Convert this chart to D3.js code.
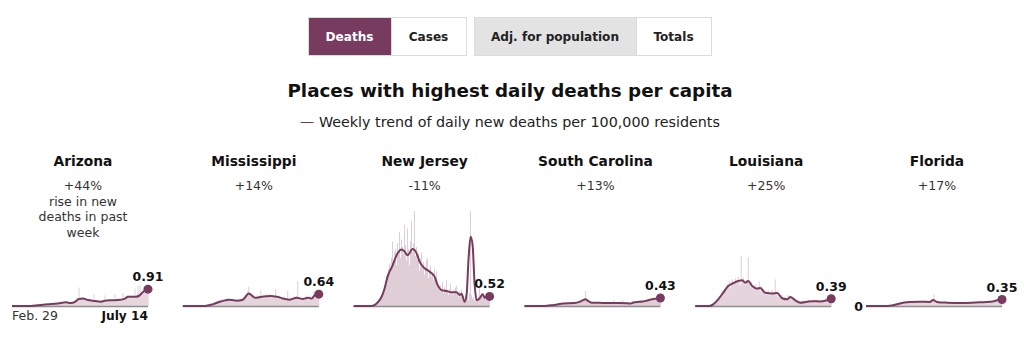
<!DOCTYPE html>
<html>
<head>
<meta charset="utf-8">
<script src="https://cdn.jsdelivr.net/npm/d3@7"></script>
<style>
  html, body { margin: 0; padding: 0; background: #fff; }
  svg { display: block; font-family: "DejaVu Sans", sans-serif; }
</style>
</head>
<body>
<div class="draw-area"></div>
<script>
// ---- data ----
const states = ["Arizona", "Mississippi", "New Jersey", "South Carolina", "Louisiana", "Florida"];
const changes = ["+44%", "+14%", "-11%", "+13%", "+25%", "+17%"];
const latest = ["0.91", "0.64", "0.52", "0.43", "0.39", "0.35"];
const dateLabels = ["Feb. 29", "July 14"];
const buttons1 = ["Deaths", "Cases"];
const buttons2 = ["Adj. for population", "Totals"];

// daily new deaths per 100k, Feb. 29 (day 0) .. July 14 (day 136)
const azDaily = [0,0,0,0,0,0,0,0,0,0, 0,0,0,0,0,0,0,0.01,0,0.01,
  0.01,0.03,0.01,0.04,0.03,0.05,0.06,0.02,0.07,0.05,
  0.08,0.06,0.1,0.04,0.09,0.12,0.07,0.11,0.13,0.08,
  0.12,0.15,0.1,0.18,0.14,0.11,0.16,0.2,0.13,0.17,
  0.19,0.12,0.22,0.18,0.25,0.15,0.2,0.14,0.18,0.12,
  0.22,0.17,0.28,0.2,0.3,0.45,0.38,1.0,0.42,0.35,
  0.48,0.36,0.4,0.33,0.3,0.42,0.28,0.36,0.25,0.31,
  0.27,0.22,0.63,0.24,0.2,0.3,0.26,0.18,0.28,0.22,
  0.3,0.25,0.34,0.58,0.26,0.32,0.28,0.36,0.3,0.27,
  0.35,0.29,0.31,0.62,0.3,0.34,0.28,0.4,0.33,0.37,
  0.42,0.7,0.38,0.45,0.55,0.48,0.6,0.44,0.52,0.5,
  0.58,0.46,0.54,0.95,0.49,0.62,1.1,0.66,1.14,0.72,
  0.85,0.78,1.05,0.82,0.96,0.88,1.02];
const msDaily = [0,0,0,0,0,0,0,0,0,0, 0,0,0,0,0,0,0,0,0,0,
  0,0.03,0,0.03,0.07,0.03,0.1,0.07,0.13,0.1,
  0.07,0.17,0.2,0.13,0.27,0.2,0.3,0.23,0.33,0.27,
  0.37,0.3,0.23,0.4,0.33,0.47,0.3,0.37,0.27,0.4,
  0.3,0.23,0.37,0.27,0.33,0.2,0.4,0.3,0.37,0.43,
  0.33,0.5,0.4,0.6,0.57,0.8,1.05,0.7,0.53,0.5,
  0.43,0.57,0.37,0.47,0.4,0.6,0.43,0.53,0.83,0.47,
  0.57,0.4,0.6,0.5,0.67,0.47,0.57,0.5,0.63,0.43,
  0.57,0.47,0.53,0.93,0.43,0.5,0.4,0.57,0.37,0.47,
  0.4,0.33,0.5,0.3,0.37,0.83,0.3,0.4,0.33,0.47,
  0.37,0.43,0.53,0.4,0.57,1.35,0.47,0.4,0.33,0.5,
  0.37,0.47,0.4,0.53,0.43,0.5,0.37,0.57,0.4,0.47,
  0.53,0.8,0.6,0.67,0.9,0.57,0.73];
const njDaily = [0,0,0,0,0,0,0,0,0,0, 0,0,0,0,0,0,0,0,0.01,0.02,
  0.02,0.05,0.1,0.12,0.2,0.3,0.25,0.45,0.6,0.55,
  0.9,1.1,1.3,1.6,1.5,2.0,2.3,1.8,2.6,3.5,
  2.4,2.9,3.1,2.2,3.4,3.0,4.0,2.6,3.6,3.2,
  2.8,4.4,3.3,2.5,4.2,3.1,2.2,3.5,4.6,2.9,
  3.4,5.3,2.7,3.2,2.5,2.8,1.9,2.6,2.9,2.2,
  2.4,1.7,2.1,2.5,2.6,1.5,1.9,2.2,1.6,1.8,
  1.4,2.0,1.5,1.9,1.2,1.0,0.9,1.1,0.8,1.3,
  0.7,1.0,0.9,1.4,0.8,0.6,0.9,1.2,0.7,0.8,
  0.6,0.9,1.0,1.1,0.7,0.5,0.8,0.6,0.9,0.4,
  0.5,0.3,0.6,0.4,0.5,0.3,0.7,21.0,0.6,0.4,
  0.5,0.3,0.4,0.6,0.3,0.5,1.0,0.4,0.7,0.5,
  0.4,0.6,0.5,0.4,0.7,0.5,0.6];
const scDaily = [0,0,0,0,0,0,0,0,0,0, 0,0,0,0,0,0,0,0,0,0,
  0,0.02,0,0.04,0.02,0.04,0.06,0.04,0.08,0.06,
  0.04,0.08,0.1,0.06,0.12,0.08,0.14,0.1,0.16,0.12,
  0.18,0.14,0.1,0.16,0.2,0.12,0.18,0.14,0.22,0.16,
  0.12,0.2,0.16,0.24,0.18,0.26,0.22,0.3,0.28,0.34,
  0.4,0.81,0.3,0.26,0.2,0.24,0.16,0.2,0.14,0.18,
  0.16,0.2,0.14,0.18,0.22,0.16,0.12,0.18,0.2,0.14,
  0.16,0.24,0.12,0.18,0.14,0.2,0.16,0.12,0.18,0.3,
  0.14,0.18,0.2,0.12,0.16,0.22,0.14,0.18,0.32,0.16,
  0.12,0.18,0.14,0.2,0.1,0.16,0.12,0.2,0.28,0.18,
  0.22,0.18,0.26,0.2,0.24,0.3,0.22,0.26,0.2,0.28,
  0.32,0.24,0.3,0.36,0.28,0.4,0.34,0.3,0.44,0.38,
  0.42,0.36,0.48,0.44,0.5,0.4,0.46];
const laDaily = [0,0,0,0,0,0,0,0,0,0, 0,0,0,0,0.02,0.04,0.06,0.1,0.12,0.18,
  0.22,0.3,0.35,0.42,0.5,0.45,0.65,0.8,0.7,0.9,
  1.0,0.85,1.2,1.1,1.35,0.95,1.3,1.45,1.1,1.25,
  1.5,1.2,1.35,1.6,1.3,1.1,2.7,1.4,1.55,1.2,
  1.15,1.4,1.3,2.65,1.2,1.05,1.3,0.95,1.1,0.9,
  1.2,0.85,1.0,0.9,1.35,0.8,1.1,0.75,0.9,0.65,
  0.8,0.6,0.75,0.85,0.55,0.7,0.65,0.9,0.6,0.75,
  1.44,0.6,0.7,0.5,0.55,0.45,0.6,0.4,0.35,0.5,
  0.3,0.45,0.4,0.6,0.55,0.45,0.35,0.5,0.3,0.4,
  0.25,0.35,0.2,0.3,0.15,0.25,0.2,0.3,0.15,0.25,
  0.3,0.2,0.25,0.35,0.2,0.3,0.25,0.2,0.3,0.35,
  0.2,0.3,0.25,0.35,0.2,0.3,0.25,0.35,0.3,0.25,
  0.35,0.3,0.4,0.35,0.45,0.4,0.5];
const flDaily = [0,0,0,0,0,0,0,0,0,0, 0,0,0,0,0,0,0,0,0,0,
  0,0.01,0.02,0.02,0.03,0.04,0.05,0.06,0.07,0.08,
  0.07,0.1,0.09,0.12,0.14,0.12,0.15,0.17,0.16,0.18,
  0.2,0.17,0.22,0.19,0.24,0.21,0.18,0.25,0.22,0.2,
  0.26,0.21,0.24,0.19,0.27,0.22,0.2,0.25,0.23,0.21,
  0.24,0.2,0.26,0.22,0.3,0.35,0.28,0.4,0.63,0.25,
  0.22,0.26,0.19,0.23,0.18,0.21,0.17,0.2,0.16,0.19,
  0.17,0.2,0.15,0.18,0.16,0.19,0.14,0.17,0.15,0.18,
  0.16,0.19,0.15,0.17,0.14,0.18,0.16,0.15,0.17,0.16,
  0.18,0.15,0.19,0.17,0.2,0.16,0.18,0.21,0.17,0.2,
  0.19,0.22,0.18,0.21,0.2,0.23,0.19,0.22,0.24,0.2,
  0.23,0.21,0.25,0.22,0.26,0.24,0.28,0.25,0.3,0.27,
  0.32,0.29,0.34,0.31,0.37,0.33,0.38];

// weekly trend, [day, value]
const azTrend = [[0,0],[19,0],[26,0.04],[36,0.09],[46,0.14],[54,0.2],[59,0.16],[63,0.22],[67,0.38],[71,0.4],
  [76,0.32],[83,0.27],[88,0.23],[93,0.29],[99,0.31],[106,0.32],[113,0.4],[116,0.5],[124,0.5],[128,0.59],[131,0.76],[136,0.91]];
const msTrend = [[0,0],[22,0],[30,0.09],[37,0.23],[47,0.34],[54,0.29],[60,0.34],[66,0.68],[72,0.45],[79,0.5],
  [87,0.54],[94,0.5],[100,0.41],[107,0.34],[114,0.45],[120,0.38],[125,0.45],[129,0.4],[132,0.59],[136,0.64]];
const njTrend = [[0,0],[16,0],[20,0.03],[23,0.14],[26,0.32],[28,0.5],[31,0.95],[34,1.59],[39,2.2],[44,2.85],
  [48,3.06],[51,2.94],[54,2.75],[59,3.08],[63,2.85],[66,2.4],[71,2.04],[76,1.86],[81,1.59],[84,1.14],
  [88,0.86],[93,0.81],[98,0.74],[103,0.74],[106,0.6],[108,0.66],[111,0.23],[113,0.6],[115,2.6],[117,3.75],
  [119,3.3],[121,1.2],[123,0.32],[126,0.41],[129,0.63],[131,0.45],[133,0.5],[136,0.52]];
const scTrend = [[0,0],[20,0],[23,0.02],[30,0.06],[39,0.14],[50,0.16],[55,0.22],[58,0.3],[61,0.36],[64,0.26],
  [67,0.18],[75,0.17],[85,0.16],[95,0.16],[103,0.15],[106,0.13],[110,0.2],[113,0.22],[118,0.24],[123,0.3],
  [128,0.36],[133,0.41],[136,0.43]];
const laTrend = [[0,0],[14,0],[18,0.09],[23,0.36],[28,0.72],[33,1.08],[38,1.23],[43,1.35],[47,1.4],[50,1.26],
  [53,1.35],[57,1.08],[62,0.94],[65,0.98],[70,0.72],[77,0.68],[82,0.7],[87,0.42],[92,0.36],[95,0.49],
  [100,0.31],[105,0.18],[112,0.23],[118,0.26],[125,0.25],[130,0.28],[136,0.39]];
const flTrend = [[0,0],[20,0],[24,0.02],[30,0.08],[34,0.14],[44,0.21],[54,0.23],[64,0.22],[67,0.32],[71,0.22],
  [81,0.18],[97,0.16],[114,0.2],[124,0.23],[128,0.26],[131,0.31],[136,0.35]];

const dailySeries = [azDaily, msDaily, njDaily, scDaily, laDaily, flDaily];
const trendSeries = [azTrend, msTrend, njTrend, scTrend, laTrend, flTrend];

// ---- drawing ----
const width = 1024, height = 342;
const maroon = "#773b5f";
const barColor = "#d8c2cb";

const svg = d3.select(".draw-area")
    .append("svg")
    .attr("width", width)
    .attr("height", height);

// Toggle buttons
function drawButtons(labels, x0, widths, fills, textFills) {
    const g = svg.append("g");
    let x = x0;
    labels.forEach((label, i) => {
        g.append("rect")
            .attr("x", x + 0.5).attr("y", 17.5)
            .attr("width", widths[i]).attr("height", 38)
            .attr("fill", fills[i])
            .attr("stroke", "#dcdcdc");
        g.append("text")
            .attr("x", x + widths[i] / 2).attr("y", 41)
            .attr("text-anchor", "middle")
            .attr("font-size", 12.1).attr("font-weight", 700)
            .attr("fill", textFills[i])
            .text(label);
        x += widths[i];
    });
}
drawButtons(buttons1, 308, [83, 75], [maroon, "#fff"], ["#fff", "#222"]);
drawButtons(buttons2, 474, [162, 75], ["#e3e3e3", "#fff"], ["#222", "#222"]);

// Headline + key
svg.append("text")
    .attr("x", 510).attr("y", 97)
    .attr("text-anchor", "middle")
    .attr("font-size", 18.3).attr("font-weight", 700)
    .attr("fill", "#111")
    .text("Places with highest daily deaths per capita");

const key = svg.append("text")
    .attr("x", 510).attr("y", 127)
    .attr("text-anchor", "middle")
    .attr("font-size", 14.3)
    .attr("fill", "#222");
key.append("tspan").attr("fill", maroon).text("— ");
key.append("tspan").text("Weekly trend of daily new deaths per 100,000 residents");

// Small multiples
const colX = d3.scalePoint().domain(states).range([12, 866]);
const chartW = 136;
const y = d3.scaleLinear().domain([0, 5.14]).range([306, 211]).clamp(true);

states.forEach((state, i) => {
    const x0 = colX(state);
    const x = d3.scaleLinear().domain([0, 136]).range([x0, x0 + chartW]);
    const g = svg.append("g");

    g.append("text")
        .attr("x", x0 + 71).attr("y", 166)
        .attr("text-anchor", "middle")
        .attr("font-size", 13.8).attr("font-weight", 700)
        .attr("fill", "#111")
        .text(state);

    const note = g.append("text")
        .attr("x", x0 + 71).attr("y", 190)
        .attr("text-anchor", "middle")
        .attr("font-size", 12.5)
        .attr("fill", "#333");
    note.append("tspan").text(changes[i]);
    if (i === 0) {
        ["rise in new", "deaths in past", "week"].forEach(line => {
            note.append("tspan").attr("x", x0 + 71).attr("dy", 15.5).text(line);
        });
    }

    // daily bars
    g.append("g")
        .selectAll("rect")
        .data(dailySeries[i])
        .join("rect")
        .attr("x", (d, j) => x(j) - 0.4)
        .attr("width", 0.8)
        .attr("y", d => y(d))
        .attr("height", d => y(0) - y(d))
        .attr("fill", barColor);

    // baseline
    g.append("line")
        .attr("x1", x(0)).attr("x2", x(136))
        .attr("y1", y(0) + 0.5).attr("y2", y(0) + 0.5)
        .attr("stroke", "#8d8d8d")
        .attr("stroke-width", 1.5);

    // weekly trend
    const line = d3.line()
        .x(d => x(d[0]))
        .y(d => y(d[1]))
        .curve(d3.curveMonotoneX);
    const trend = trendSeries[i];
    g.append("path")
        .attr("d", line(trend))
        .attr("fill", "none")
        .attr("stroke", maroon)
        .attr("stroke-width", 2)
        .attr("stroke-linejoin", "round");

    const last = trend[trend.length - 1];
    g.append("circle")
        .attr("cx", x(last[0])).attr("cy", y(last[1]))
        .attr("r", 4.5)
        .attr("fill", maroon);

    g.append("text")
        .attr("x", x(last[0])).attr("y", y(last[1]) - 8)
        .attr("text-anchor", "middle")
        .attr("font-size", 12.5).attr("font-weight", 700)
        .attr("fill", "#111")
        .text(latest[i]);

    if (i === 0) {
        g.append("text")
            .attr("x", x(0)).attr("y", 320)
            .attr("font-size", 12.5)
            .attr("fill", "#333")
            .text(dateLabels[0]);
        g.append("text")
            .attr("x", x(136)).attr("y", 320)
            .attr("text-anchor", "end")
            .attr("font-size", 12.2).attr("font-weight", 700)
            .attr("fill", "#111")
            .text(dateLabels[1]);
    }
    if (i === states.length - 1) {
        g.append("text")
            .attr("x", x(0) - 3).attr("y", y(0) + 5)
            .attr("text-anchor", "end")
            .attr("font-size", 12.5).attr("font-weight", 700)
            .attr("fill", "#111")
            .text("0");
    }
});
</script>
</body>
</html>
